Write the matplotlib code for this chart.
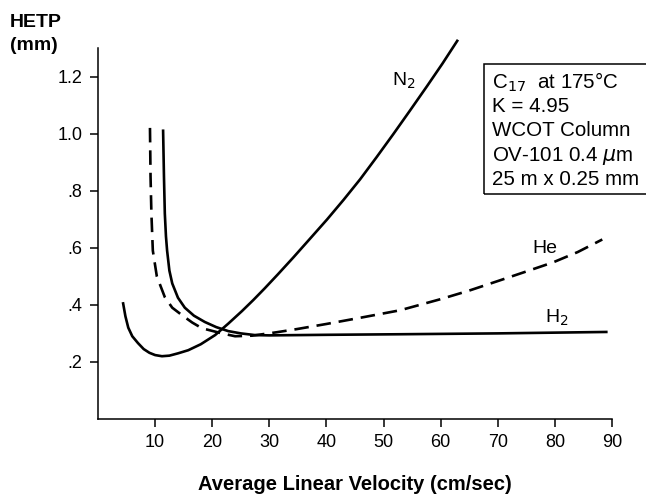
import matplotlib.pyplot as plt
from matplotlib.patches import Rectangle

plt.rcParams['font.family'] = ['Liberation Sans', 'DejaVu Sans']

# HETP vs average linear velocity
n2_u = [4.4, 4.8, 5.3, 6, 7, 8, 9, 10, 11.2, 12.5, 14, 15.8, 18, 20.5, 22.8, 25.2, 27.2,
        29.2, 31.5, 34.2, 37, 40.1, 43, 45.9, 48.8, 51.7, 54.6, 57.6, 60.3, 62.9]
n2_h = [0.405, 0.36, 0.32, 0.29, 0.266, 0.245, 0.232, 0.224, 0.22, 0.222, 0.23, 0.241,
        0.262, 0.294, 0.334, 0.378, 0.417, 0.458, 0.507, 0.566, 0.629, 0.699, 0.768, 0.840,
        0.918, 0.998, 1.080, 1.166, 1.245, 1.325]

he_u = [9.1, 9.2, 9.35, 9.6, 10.3, 11.7, 13, 14.7, 16.5, 18.2, 21.7, 24, 27, 31.3, 34.8,
        40, 46, 52.9, 60, 65, 70.4, 75, 79.7, 84, 88.3]
he_h = [1.02, 0.85, 0.72, 0.59, 0.50, 0.427, 0.39, 0.364, 0.338, 0.318, 0.30, 0.29, 0.292,
        0.304, 0.315, 0.333, 0.355, 0.381, 0.42, 0.45, 0.486, 0.517, 0.549, 0.585, 0.629]

h2_u = [11.4, 11.55, 11.7, 11.9, 12.1, 12.5, 13, 14, 15.2, 16.8, 18.7, 20.7, 22.8, 25,
        27.5, 30, 40, 53, 70, 89]
h2_h = [1.01, 0.85, 0.72, 0.64, 0.59, 0.52, 0.475, 0.425, 0.39, 0.362, 0.34, 0.322, 0.308,
        0.30, 0.294, 0.293, 0.295, 0.297, 0.30, 0.305]

x_ticks = [10, 20, 30, 40, 50, 60, 70, 80, 90]
y_ticks = [0.2, 0.4, 0.6, 0.8, 1.0, 1.2]
y_labels = ['.2', '.4', '.6', '.8', '1.0', '1.2']

box_lines = ['C$_{17}$  at 175\u00b0C', 'K = 4.95', 'WCOT Column',
             'OV-101 0.4 $\\mu$m', '25 m x 0.25 mm']

fig = plt.figure(figsize=(6.46, 4.97), dpi=100)
ax = fig.add_axes([98/646, 1-419/497, (612-98)/646, (419-48)/497])

ax.plot(n2_u, n2_h, color='black', lw=1.9, clip_on=False, solid_joinstyle='round')
ax.plot(he_u, he_h, color='black', lw=1.9, ls=(0, (5.5, 3)), clip_on=False)
ax.plot(h2_u, h2_h, color='black', lw=1.9, clip_on=False, solid_joinstyle='round')

ax.set_xlim(0, 90)
ax.set_ylim(0, 1.3)
ax.set_xticks(x_ticks)
ax.set_yticks(y_ticks)
ax.set_yticklabels(y_labels)
ax.tick_params(direction='out', length=6, width=1.1, labelsize=13, pad=5)
for s in ['top', 'right']:
    ax.spines[s].set_visible(False)
for s in ['left', 'bottom']:
    ax.spines[s].set_linewidth(1.1)

# curve labels
ax.text(51.5, 1.168, 'N$_2$', fontsize=14)
ax.text(76, 0.58, 'He', fontsize=14)
ax.text(78.3, 0.339, 'H$_2$', fontsize=14)

fig.text(10/646, 1-14/497, 'HETP\n(mm)', fontsize=14, fontweight='bold',
         va='top', ha='left', linespacing=1.5)
fig.text(355/646, 1-484/497, 'Average Linear Velocity (cm/sec)', fontsize=14.5,
         fontweight='bold', ha='center', va='center')

# info box, cut off by the right edge
fig.patches.append(Rectangle((484/646, 1-194/497), 220/646, 130/497,
                             transform=fig.transFigure, fill=False, lw=1.1,
                             edgecolor='black'))
for i, line in enumerate(box_lines):
    fig.text(492/646, 1-(88 + i*24.2)/497, line, fontsize=14.8, ha='left',
             va='baseline')

fig.savefig('out.png', dpi=100)
